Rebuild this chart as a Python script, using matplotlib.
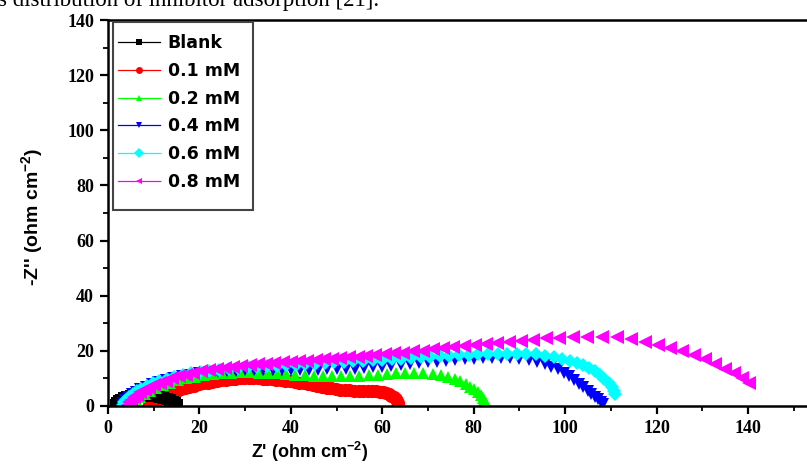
import matplotlib
matplotlib.use("Agg")
import matplotlib.pyplot as plt
from matplotlib.lines import Line2D
from matplotlib.patches import Rectangle
from matplotlib.ticker import MultipleLocator

# ---------------- data ----------------
labels = ["Blank", "0.1 mM", "0.2 mM", "0.4 mM", "0.6 mM", "0.8 mM"]
colors = ["#000000", "#ff0000", "#00ff00", "#0000ff", "#00ffff", "#ff00ff"]
markers = ["s", "o", "^", "v", "D", "<"]

blank_x = [1.8, 2.0, 2.4, 2.9, 3.5, 4.2, 5.0, 5.8, 6.7, 7.6, 8.5, 9.4, 10.3, 11.2, 12.1, 12.9, 13.6, 14.2, 14.7, 15.0]
blank_y = [0.3, 1.0, 1.7, 2.3, 2.9, 3.3, 3.7, 3.9, 4.0, 4.0, 3.9, 3.8, 3.6, 3.3, 3.0, 2.6, 2.1, 1.6, 1.0, 0.4]

c01_x = [9.0, 9.4, 9.9, 10.5, 11.1, 11.8, 12.5, 13.3, 14.1, 15.0, 15.9, 16.8, 17.8, 18.8, 19.8, 20.8,
         21.8, 22.8, 23.8, 24.8, 25.8, 26.8, 27.8, 28.8, 29.8, 30.8, 31.8, 32.8, 33.8, 34.8, 35.8,
         36.8, 37.8, 38.8, 39.8, 40.8, 41.8, 42.8, 43.8, 44.8, 45.8, 46.8, 47.8, 48.8, 49.8, 50.8,
         51.8, 52.8, 53.8, 54.8, 55.8, 56.8, 57.7, 58.6, 59.4, 60.2, 60.9, 61.5, 62.0, 62.5, 62.9,
         63.2, 63.4, 63.5]
c01_y = [0.3, 0.9, 1.5, 2.1, 2.7, 3.3, 3.9, 4.5, 5.1, 5.6, 6.1, 6.6, 7.0, 7.4, 7.8, 8.2,
         8.5, 8.8, 9.1, 9.4, 9.6, 9.8, 9.95, 10.05, 10.1, 10.1, 10.05, 10.0, 9.9, 9.8, 9.7,
         9.55, 9.4, 9.2, 9.0, 8.75, 8.5, 8.2, 7.9, 7.6, 7.3, 7.0, 6.7, 6.4, 6.15, 5.95,
         5.8, 5.7, 5.6, 5.55, 5.55, 5.5, 5.45, 5.35, 5.2, 4.95, 4.6, 4.2, 3.7, 3.1, 2.5,
         1.8, 1.1, 0.4]

c02_x = [5.0, 5.5, 6.2, 7.0, 8.0, 9.2, 10.5, 12.0, 13.6, 15.3, 17.1, 19.0, 21.0, 23.0, 25.0, 27.0,
         29.0, 31.0, 33.0, 35.0, 37.0, 39.0, 41.0, 43.0, 45.0, 47.0, 49.0, 51.0, 53.0, 55.0, 57.0,
         59.0, 61.0, 63.0, 65.0, 67.0, 69.0, 71.0, 72.8, 74.4, 75.8, 77.0, 78.2, 79.2, 80.1, 80.9,
         81.5, 82.0, 82.3, 82.6]
c02_y = [0.5, 1.4, 2.4, 3.4, 4.5, 5.6, 6.6, 7.6, 8.5, 9.3, 10.0, 10.6, 11.1, 11.6, 11.9, 12.1,
         12.2, 12.2, 12.1, 12.0, 11.8, 11.6, 11.4, 11.2, 11.0, 10.9, 10.8, 10.8, 10.9, 11.0, 11.2,
         11.4, 11.6, 11.8, 11.9, 12.0, 11.9, 11.7, 11.3, 10.6, 9.8, 8.9, 8.0, 7.0, 6.0, 5.0,
         4.0, 3.0, 2.0, 1.1]

c04_x = [3.0, 3.3, 3.8, 4.4, 5.2, 6.1, 7.1, 8.3, 9.6, 11.0, 12.6, 14.3, 16.1, 18.0, 20.0, 22.0,
         24.0, 26.0, 28.0, 30.0, 32.0, 34.0, 36.0, 38.0, 40.0, 42.0, 44.0, 46.0, 48.0, 50.0, 52.0,
         54.0, 56.0, 58.0, 60.0, 62.0, 64.0, 66.0, 68.0, 70.0, 72.0, 74.0, 76.0, 78.0, 80.0, 82.0,
         84.0, 86.0, 88.0, 90.0, 92.0, 93.8, 95.5, 97.0, 98.4, 99.7, 100.9, 102.0, 103.0, 104.0,
         104.9, 105.7, 106.5, 107.2, 107.8, 108.2]
c04_y = [0.3, 1.2, 2.2, 3.2, 4.2, 5.2, 6.1, 7.0, 7.9, 8.7, 9.5, 10.2, 10.8, 11.4, 11.9, 12.2,
         12.5, 12.7, 12.8, 12.9, 12.9, 13.0, 13.0, 13.0, 13.0, 13.0, 13.1, 13.2, 13.3, 13.4, 13.5,
         13.6, 13.8, 14.0, 14.3, 14.6, 14.9, 15.2, 15.5, 15.8, 16.1, 16.4, 16.7, 16.9, 17.1, 17.3,
         17.4, 17.4, 17.3, 17.0, 16.6, 16.0, 15.2, 14.3, 13.3, 12.0, 10.7, 9.4, 8.1, 6.8,
         5.6, 4.5, 3.4, 2.4, 1.4, 0.6]

c06_x = [3.2, 3.5, 4.0, 4.6, 5.4, 6.3, 7.3, 8.5, 9.8, 11.2, 12.8, 14.5, 16.3, 18.2, 20.2, 22.2,
         24.3, 26.4, 28.5, 30.6, 32.7, 34.8, 36.9, 39.0, 41.1, 43.2, 45.3, 47.4, 49.5, 51.6, 53.7,
         55.8, 57.9, 60.0, 62.1, 64.2, 66.3, 68.4, 70.5, 72.6, 74.7, 76.8, 78.9, 81.0, 83.1, 85.2,
         87.3, 89.4, 91.5, 93.6, 95.6, 97.5, 99.3, 101.0, 102.6, 104.0, 105.3, 106.5, 107.6, 108.6,
         109.5, 110.2, 110.7, 111.0]
c06_y = [0.4, 1.3, 2.3, 3.3, 4.3, 5.3, 6.3, 7.3, 8.2, 9.1, 9.9, 10.6, 11.3, 11.9, 12.4, 12.8,
         13.2, 13.5, 13.8, 14.0, 14.2, 14.4, 14.6, 14.8, 15.0, 15.2, 15.4, 15.6, 15.8, 16.0, 16.2,
         16.4, 16.6, 16.8, 17.0, 17.2, 17.4, 17.6, 17.8, 18.0, 18.2, 18.4, 18.6, 18.7, 18.8, 18.9,
         19.0, 19.0, 18.9, 18.7, 18.3, 17.8, 17.2, 16.5, 15.7, 14.8, 13.8, 12.6, 11.3, 9.9,
         8.4, 6.9, 5.5, 4.3]

c08_x = [4.3, 4.6, 5.0, 5.6, 6.3, 7.1, 8.0, 9.0, 10.1, 11.3, 12.6, 14.0, 15.5, 17.0, 18.6, 20.3,
         22.0, 23.8, 25.6, 27.4, 29.2, 31.0, 32.8, 34.6, 36.4, 38.2, 40.0, 41.8, 43.6, 45.4, 47.2,
         49.0, 50.8, 52.7, 54.6, 56.5, 58.5, 60.5, 62.5, 64.6, 66.7, 68.8, 71.0, 73.2, 75.5, 77.8,
         80.2, 82.6, 85.1, 87.7, 90.3, 93.0, 95.8, 98.7, 101.7, 104.8, 108.0, 111.3, 114.5, 117.5,
         120.3, 123.0, 125.6, 128.1, 130.5, 132.8, 134.9, 136.9, 138.7, 140.3]
c08_y = [0.4, 1.3, 2.2, 3.1, 4.0, 4.9, 5.8, 6.7, 7.6, 8.4, 9.2, 10.0, 10.7, 11.4, 12.0, 12.6,
         13.1, 13.5, 13.9, 14.3, 14.6, 14.9, 15.2, 15.4, 15.7, 15.9, 16.1, 16.3, 16.5, 16.8, 17.0,
         17.2, 17.4, 17.7, 17.9, 18.2, 18.5, 18.8, 19.1, 19.4, 19.8, 20.1, 20.5, 20.9, 21.3, 21.7,
         22.1, 22.5, 22.9, 23.3, 23.7, 24.1, 24.5, 24.8, 25.1, 25.2, 25.2, 24.9, 24.2, 23.3,
         22.3, 21.2, 20.0, 18.6, 17.1, 15.4, 13.6, 11.8, 10.0, 8.2]

xs = [blank_x, c01_x, c02_x, c04_x, c06_x, c08_x]
ys = [blank_y, c01_y, c02_y, c04_y, c06_y, c08_y]

x_ticks = [0, 20, 40, 60, 80, 100, 120, 140]
y_ticks = [0, 20, 40, 60, 80, 100, 120, 140]

# ---------------- styling ----------------
plt.rcParams["mathtext.fontset"] = "custom"
plt.rcParams["mathtext.rm"] = "Liberation Sans:bold"
plt.rcParams["mathtext.bf"] = "Liberation Sans:bold"
plt.rcParams["mathtext.it"] = "Liberation Sans:bold"

fig = plt.figure(figsize=(8.07, 4.68), dpi=100)
fig.patch.set_facecolor("white")
ax = fig.add_axes([108 / 807, 62 / 468, 699 / 807, 386 / 468])

msizes = [8.5, 9.5, 9, 9, 7.5, 9.5]
zorders = [2.6, 2.5, 2.7, 2.8, 2.9, 3.0]
for x, y, c, m, ms, z in zip(xs, ys, colors, markers, msizes, zorders):
    ax.plot(x, y, linestyle="none", marker=m, color=c, markersize=ms,
            markeredgewidth=0, clip_on=True, zorder=z)

ax.set_xlim(0, 152.9)
ax.set_ylim(0, 140)
ax.set_xticks(x_ticks)
ax.set_yticks(y_ticks)
ax.xaxis.set_minor_locator(MultipleLocator(10))
ax.yaxis.set_minor_locator(MultipleLocator(10))
ax.tick_params(which="major", direction="out", length=6, width=1.6, pad=4)
ax.tick_params(which="minor", direction="out", length=3.5, width=1.3)
for lab in ax.get_xticklabels() + ax.get_yticklabels():
    lab.set_family("Liberation Serif")
    lab.set_fontweight("bold")
    lab.set_fontsize(13)

for side in ["left", "bottom", "top"]:
    ax.spines[side].set_linewidth(1.8)
    ax.spines[side].set_zorder(4)
ax.spines["right"].set_visible(False)

ax.set_xlabel("Z' (ohm cm$^{-2}$)", family="Liberation Sans", fontweight="bold", fontsize=13)
ax.set_ylabel("-Z'' (ohm cm$^{-2}$)", family="Liberation Sans", fontweight="bold", fontsize=14)
ax.xaxis.set_label_coords(0.289, -0.088)
ax.yaxis.set_label_coords(-0.09, 0.49)

# legend frame drawn as a rectangle (box of the reference), entries without frame
box_x0, box_x1 = 113 / 807, 253 / 807
box_y0, box_y1 = (468 - 210) / 468, (468 - 22) / 468
fig.patches.append(Rectangle((box_x0, box_y0), box_x1 - box_x0, box_y1 - box_y0,
                             transform=fig.transFigure, facecolor="white",
                             edgecolor="#444444", linewidth=1.5, zorder=5))

handles = [Line2D([0], [0], color=c, marker=m, markersize=5, linewidth=0.9,
                  markeredgewidth=0) for c, m in zip(colors, markers)]
leg = fig.legend(handles, labels, loc="upper left",
                 bbox_to_anchor=(113 / 807, (468 - 29) / 468),
                 borderaxespad=0, frameon=False,
                 prop={"family": "DejaVu Sans", "weight": "bold", "size": 12.5},
                 handlelength=2.4, handletextpad=0.45, labelspacing=0.56,
                 borderpad=0.3)
leg.set_zorder(6)

fig.text(-0.003, 0.988, "s distribution of inhibitor adsorption [21].",
         family="Liberation Serif", fontsize=16.5, va="baseline", ha="left")

fig.savefig("out.png", dpi=100, facecolor="white")
